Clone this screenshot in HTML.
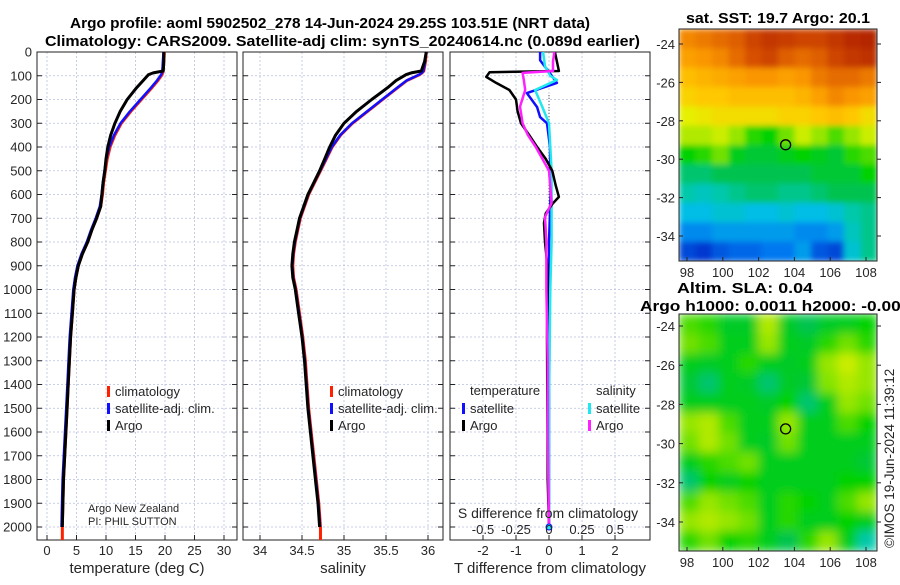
<!DOCTYPE html>
<html><head><meta charset="utf-8"><style>
body{margin:0;background:#fff}
svg text{font-family:"Liberation Sans","DejaVu Sans",sans-serif;fill:#262626}
</style></head><body>
<svg id="fig" width="900" height="580" viewBox="0 0 900 580" xmlns="http://www.w3.org/2000/svg">
<text x="70" y="28" textLength="520" lengthAdjust="spacingAndGlyphs" font-size="15" font-weight="bold" style="fill:#000">Argo profile: aoml 5902502_278 14-Jun-2024 29.25S 103.51E (NRT data)</text>
<text x="45" y="46" textLength="595" lengthAdjust="spacingAndGlyphs" font-size="15" font-weight="bold" style="fill:#000">Climatology: CARS2009. Satellite-adj clim: synTS_20240614.nc (0.089d earlier)</text>
<g id="plots"></g>
<text x="686" y="23" textLength="184" lengthAdjust="spacingAndGlyphs" font-size="15" font-weight="bold" style="fill:#000">sat. SST: 19.7 Argo: 20.1</text>
<text x="677" y="293" textLength="136" lengthAdjust="spacingAndGlyphs" font-size="15" font-weight="bold" style="fill:#000">Altim. SLA: 0.04</text>
<text x="640" y="311" textLength="280" lengthAdjust="spacingAndGlyphs" font-size="15" font-weight="bold" style="fill:#000">Argo h1000: 0.0011 h2000: -0.0002</text>
<text x="0" y="0" transform="translate(894,548) rotate(-90)" font-size="13.5">©IMOS 19-Jun-2024 11:39:12</text>
<text x="88" y="512" font-size="11">Argo New Zealand</text>
<text x="88" y="525" font-size="11">PI: PHIL SUTTON</text>
</svg>
<script>
// ---- data ----
const depthTicks=[0,100,200,300,400,500,600,700,800,900,1000,1100,1200,1300,1400,1500,1600,1700,1800,1900,2000];
const tTicks=[0,5,10,15,20,25,30];
const sTicks=[34,34.5,35,35.5,36];
const sTickLabels=["34","34.5","35","35.5","36"];
const dtTicks=[-2,-1,0,1,2];
const dsTicks=[-0.5,-0.25,0,0.25,0.5];
const dsTickLabels=["-0.5","-0.25","0","0.25","0.5"];
const argoDepth=[0,40,80,88,95,120,150,200,250,300,350,400,450,500,550,600,650,700,750,800,850,900,950,1000,1100,1200,1300,1400,1500,1600,1700,1800,1900,2000];
const argoTemp=[19.8,19.8,19.7,18.0,17.2,16.3,15.2,13.6,12.4,11.5,10.8,10.3,10.0,9.8,9.5,9.3,9.1,8.4,7.6,6.9,6.0,5.3,4.9,4.6,4.3,4.0,3.8,3.6,3.4,3.2,3.0,2.8,2.7,2.6];
const climTemp=[19.9,19.8,19.7,19.6,19.5,18.8,17.8,16.0,14.2,12.6,11.5,10.7,10.2,9.9,9.6,9.4,9.1,8.4,7.6,6.9,6.0,5.3,4.9,4.6,4.3,4.0,3.8,3.6,3.4,3.2,3.0,2.8,2.7,2.6];
const argoSal=[35.98,35.96,35.92,35.80,35.74,35.62,35.52,35.33,35.15,35.00,34.90,34.83,34.77,34.71,34.64,34.57,34.52,34.47,34.44,34.41,34.39,34.38,34.39,34.42,34.46,34.50,34.53,34.55,34.57,34.60,34.63,34.66,34.69,34.71];
const climSal=[35.98,35.97,35.95,35.93,35.90,35.75,35.64,35.46,35.28,35.10,34.96,34.86,34.79,34.72,34.65,34.58,34.53,34.48,34.45,34.42,34.40,34.39,34.40,34.43,34.47,34.51,34.54,34.56,34.58,34.61,34.64,34.67,34.70,34.72];
const dTempArgoDepth=[0,40,80,85,105,130,160,200,250,300,350,400,450,500,560,610,640,680,720,800,900,1000,1200,1500,1800,2000];
const dTempArgo=[0.18,0.24,0.3,-1.8,-1.9,-1.6,-1.2,-1.0,-0.95,-0.85,-0.6,-0.36,-0.1,0.1,0.2,0.3,0.1,-0.1,-0.15,-0.12,-0.05,-0.05,-0.06,-0.05,-0.04,0.0];
const dSalArgoDepth=[0,40,80,88,120,160,230,300,350,400,450,500,635,695,800,1000,1300,1600,2000];
const dSalArgo=[0.04,0.03,0.03,-0.2,-0.19,-0.18,-0.22,-0.2,-0.16,-0.1,-0.05,0.0,0.02,-0.03,-0.02,-0.02,-0.01,-0.01,0.0];
const dTempSatDepth=[0,35,90,130,173,232,274,300,400,600,800,1000,1500,2000];
const dTempSat=[-0.27,-0.27,0.03,0.24,-0.67,-0.36,-0.27,-0.06,0.03,0.05,0.0,0.02,0.0,0.0];
const dSalSatDepth=[0,60,100,118,160,232,300,500,800,1000,1500,2000];
const dSalSat=[-0.045,-0.03,0.01,0.06,-0.105,-0.05,0.0,0.02,0.02,0.01,0.0,0.0];
const lonTicks=[98,100,102,104,106,108];
const latTicks=[-24,-26,-28,-30,-32,-34];
const sstGrid=[
[.82,.84,.86,.88,.92,.94,.93,.92,.92,.94,.96,.97],
[.78,.80,.82,.86,.90,.92,.88,.86,.88,.92,.94,.95],
[.72,.74,.76,.78,.80,.80,.78,.80,.84,.86,.86,.84],
[.68,.70,.70,.72,.72,.72,.72,.74,.78,.82,.80,.78],
[.62,.64,.66,.66,.66,.66,.68,.68,.70,.72,.70,.66],
[.58,.58,.60,.56,.50,.48,.54,.60,.56,.52,.56,.60],
[.48,.50,.54,.46,.44,.44,.46,.48,.46,.44,.50,.52],
[.40,.40,.42,.42,.42,.42,.42,.42,.44,.44,.44,.48],
[.36,.34,.36,.38,.40,.40,.38,.38,.40,.42,.42,.42],
[.30,.30,.32,.32,.30,.30,.32,.30,.30,.32,.36,.38],
[.24,.24,.26,.26,.26,.26,.26,.24,.24,.26,.34,.38],
[.16,.14,.18,.20,.20,.22,.22,.26,.18,.16,.32,.38]];
const slaGrid=[
[.52,.50,.45,.45,.58,.45,.42,.45,.46,.48],
[.54,.52,.46,.46,.56,.46,.45,.50,.54,.50],
[.46,.45,.46,.50,.46,.45,.46,.56,.60,.56],
[.44,.40,.46,.45,.40,.45,.44,.55,.58,.56],
[.46,.46,.46,.46,.45,.48,.40,.46,.56,.54],
[.56,.58,.52,.46,.46,.56,.46,.46,.52,.48],
[.54,.58,.54,.46,.45,.54,.46,.46,.46,.46],
[.46,.50,.52,.54,.46,.46,.46,.46,.46,.44],
[.40,.48,.46,.48,.46,.46,.46,.46,.48,.48],
[.52,.56,.54,.52,.46,.50,.48,.46,.52,.56],
[.56,.58,.56,.54,.46,.50,.46,.46,.48,.46],
[.50,.54,.48,.50,.46,.42,.50,.56,.46,.36]];
const floatLon=103.51, floatLat=-29.25;

// ---- helpers ----
const NS="http://www.w3.org/2000/svg";
const root=document.getElementById('plots');
function mk(tag,attrs,parent){const e=document.createElementNS(NS,tag);for(const k in attrs)e.setAttribute(k,attrs[k]);(parent||root).appendChild(e);return e;}
const yD=d=>52+d*0.2375;
const TOP=52,BOT=540;
const cmapStops=[[0,0,0,140],[0.12,0,40,200],[0.22,0,120,240],[0.3,0,190,230],[0.36,0,200,170],[0.42,0,195,80],[0.48,0,210,0],[0.56,150,230,0],[0.62,230,240,0],[0.7,255,200,0],[0.8,250,150,0],[0.9,215,80,0],[1,165,20,0]];
function cmap(v){for(let i=1;i<cmapStops.length;i++){const a=cmapStops[i-1],b=cmapStops[i];if(v<=b[0]){const f=(v-a[0])/(b[0]-a[0]);return `rgb(${Math.round(a[1]+f*(b[1]-a[1]))},${Math.round(a[2]+f*(b[2]-a[2]))},${Math.round(a[3]+f*(b[3]-a[3]))})`;}}return 'rgb(165,20,0)';}

function panel(name,x0,x1,xs,ticks,labels,xlabel,showY){
  const g=mk('g',{});
  
  
  ticks.forEach(t=>{mk('line',{x1:xs(t),x2:xs(t),y1:TOP,y2:BOT,stroke:'#b8bfe0','stroke-dasharray':'2,2','stroke-width':0.8},g);});
  depthTicks.forEach(d=>{mk('line',{x1:x0,x2:x1,y1:yD(d),y2:yD(d),stroke:'#b8bfe0','stroke-dasharray':'2,2','stroke-width':0.8},g);
    mk('line',{x1:x0,x2:x0+5,y1:yD(d),y2:yD(d),stroke:'#222'},g);mk('line',{x1:x1-5,x2:x1,y1:yD(d),y2:yD(d),stroke:'#222'},g);
    if(showY){const t=mk('text',{x:x0-5,y:yD(d)+4.5,'text-anchor':'end','font-size':13},g);t.textContent=d;}});
  ticks.forEach((t,i)=>{mk('line',{x1:xs(t),x2:xs(t),y1:BOT,y2:BOT-5,stroke:'#222'},g);
    if(labels){const tx=mk('text',{x:xs(t),y:555,'text-anchor':'middle','font-size':13},g);tx.textContent=labels[i];}});
  mk('rect',{x:x0,y:TOP,width:x1-x0,height:BOT-TOP,fill:'none',stroke:'#222','stroke-width':1},g);
  const xl=mk('text',{x:(x0+x1)/2,y:573,'text-anchor':'middle','font-size':15},g);xl.textContent=xlabel;
  return g;
}
function line(g,xs,vals,depths,color,w,name){
  const p=mk('path',{d:vals.map((v,i)=>(i?'L':'M')+xs(v).toFixed(1)+','+yD(depths[i]).toFixed(1)).join(''),fill:'none',stroke:color,'stroke-width':w,'stroke-linejoin':'round'},g);
  
  
}
function legend(g,x,y,color,label,name){
  const r=mk('rect',{x:x,y:y-9,width:3,height:11,fill:color},g);
  
  
  const t=mk('text',{x:x+8,y:y+1,'font-size':13},g);t.textContent=label;
  
  
}

// ---- temperature panel ----
const xT=v=>47+v*5.9;
const g1=panel('temperature-panel',37,237,xT,tTicks,tTicks,'temperature (deg C)',true);
line(g1,xT,climTemp,argoDepth,'#ff2000',3,'temperature-climatology-line');
line(g1,xT,climTemp.map((v,i)=>v-0.15),argoDepth,'#1010ff',2.5,'temperature-satellite-line');
line(g1,xT,argoTemp,argoDepth,'#000',3,'temperature-argo-line');
mk('rect',{x:xT(2.6)-1.5,y:yD(2000),width:3,height:BOT-yD(2000),fill:'#ff2000'},g1);
legend(g1,107,395,'#ff2000','climatology','temp-legend-climatology');
legend(g1,107,412,'#1010ff','satellite-adj. clim.','temp-legend-satellite');
legend(g1,107,429,'#000','Argo','temp-legend-argo');

// ---- salinity panel ----
const xS=v=>260+(v-34)*84;
const g2=panel('salinity-panel',243,443,xS,sTicks,sTickLabels,'salinity',false);
line(g2,xS,climSal,argoDepth,'#ff2000',3,'salinity-climatology-line');
line(g2,xS,climSal.map(v=>v-0.005),argoDepth,'#1010ff',2.5,'salinity-satellite-line');
line(g2,xS,argoSal,argoDepth,'#000',3,'salinity-argo-line');
mk('rect',{x:xS(34.72)-1.5,y:yD(2000),width:3,height:BOT-yD(2000),fill:'#ff2000'},g2);
legend(g2,330,395,'#ff2000','climatology','sal-legend-climatology');
legend(g2,330,412,'#1010ff','satellite-adj. clim.','sal-legend-satellite');
legend(g2,330,429,'#000','Argo','sal-legend-argo');

// ---- difference panel ----
const xDT=v=>549+v*33;
const xDS=v=>549+v*132;
const g3=panel('difference-panel',450,650,xDT,dtTicks,dtTicks,'T difference from climatology',false);
mk('line',{x1:549,x2:549,y1:95,y2:275,stroke:'#555','stroke-dasharray':'1,2'},g3);
line(g3,xDT,dTempSat,dTempSatDepth,'#1010ff',2.5,'temp-diff-satellite-line');
line(g3,xDS,dSalSat,dSalSatDepth,'#20e8f0',2.5,'sal-diff-satellite-line');
line(g3,xDT,dTempArgo,dTempArgoDepth,'#000',2.5,'temp-diff-argo-line');
line(g3,xDS,dSalArgo,dSalArgoDepth,'#ff20ff',2.5,'sal-diff-argo-line');
mk('circle',{cx:549,cy:yD(2000),r:3,fill:'#20e8f0',stroke:'#1010ff'},g3);
const st=mk('text',{x:548,y:518,'text-anchor':'middle','font-size':14},g3);st.textContent='S difference from climatology';
dsTicks.forEach((t,i)=>{const tx=mk('text',{x:xDS(t),y:534,'text-anchor':'middle','font-size':13},g3);tx.textContent=dsTickLabels[i];});
const lt=mk('text',{x:470,y:395,'font-size':13},g3);lt.textContent='temperature';
const ls=mk('text',{x:596,y:395,'font-size':13},g3);ls.textContent='salinity';
legend(g3,462,412,'#1010ff','satellite','diff-legend-temp-satellite');
legend(g3,462,429,'#000','Argo','diff-legend-temp-argo');
legend(g3,588,412,'#20e8f0','satellite','diff-legend-sal-satellite');
legend(g3,588,429,'#ff20ff','Argo','diff-legend-sal-argo');

// ---- maps ----
mk('defs',{}).innerHTML='<filter id="bl" x="0" y="0" width="1" height="1"><feGaussianBlur stdDeviation="5" edgeMode="duplicate"/></filter><filter id="bl2" x="0" y="0" width="1" height="1"><feGaussianBlur stdDeviation="3" edgeMode="duplicate"/></filter><clipPath id="c1"><rect x="679" y="29" width="198" height="232"/></clipPath><clipPath id="c2"><rect x="679" y="314" width="198" height="237"/></clipPath>';
function map(name,grid,y0,y1,latY,blur,clip){
  const x0=679,x1=877;
  const g=mk('g',{});
  
  
  const lonX=v=>687+(v-98)*17.9;
  const cells=mk('g',{'clip-path':'url(#'+clip+')'},g);
  const inner=mk('g',{filter:'url(#'+blur+')'},cells);
  const rows=grid.length,cols=grid[0].length,cw=(x1-x0)/cols,ch=(y1-y0)/rows;
  grid.forEach((row,r)=>row.forEach((v,c)=>{const cell=mk('rect',{x:x0+c*cw,y:y0+r*ch,width:cw+0.6,height:ch+0.6,fill:cmap(v)},inner);
    
    }));
  mk('rect',{x:x0,y:y0,width:x1-x0,height:y1-y0,fill:'none',stroke:'#222'},g);
  lonTicks.forEach(l=>{mk('line',{x1:lonX(l),x2:lonX(l),y1:y1,y2:y1-4,stroke:'#222'},g);
    const t=mk('text',{x:lonX(l),y:y1+16,'text-anchor':'middle','font-size':13},g);t.textContent=l;});
  latTicks.forEach(l=>{const y=latY(l);mk('line',{x1:x0,x2:x0+4,y1:y,y2:y,stroke:'#222'},g);mk('line',{x1:x1,x2:x1+4,y1:y,y2:y,stroke:'#222'},g);
    const t=mk('text',{x:x0-4,y:y+5,'text-anchor':'end','font-size':13},g);t.textContent=l;});
  mk('circle',{cx:lonX(floatLon),cy:latY(floatLat),r:5,fill:'none',stroke:'#000','stroke-width':1.3},g);
}
map('sst-map',sstGrid,29,261,l=>44+(-24-l)*19.2,'bl2','c1');
map('sla-map',slaGrid,314,551,l=>326+(-24-l)*19.6,'bl','c2');
</script>
</body></html>
